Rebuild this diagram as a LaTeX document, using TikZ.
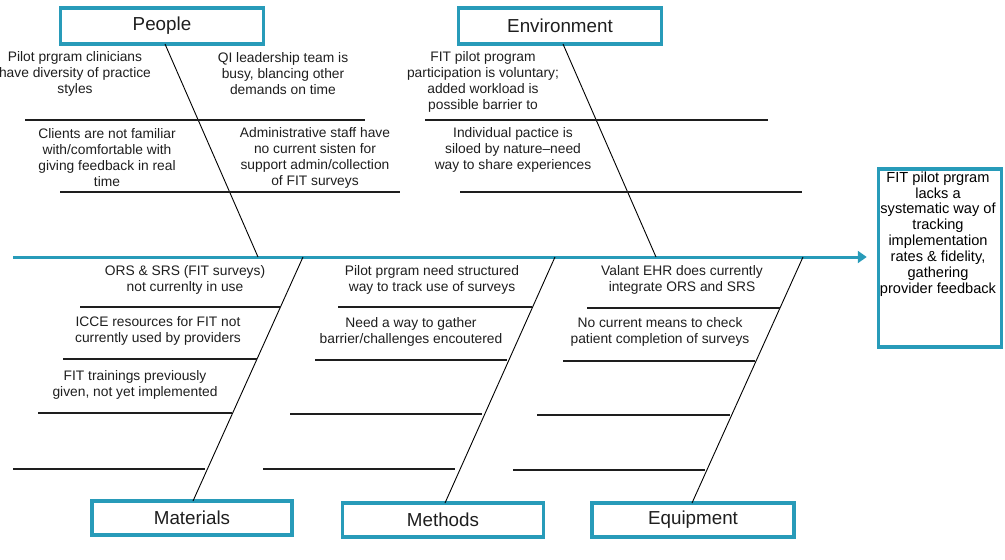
\documentclass[tikz,border=0pt]{standalone}
\usepackage{fontspec}
\setmainfont{Liberation Sans}
\usetikzlibrary{arrows.meta}
\definecolor{fbteal}{RGB}{40,155,185}
\definecolor{fbgray}{RGB}{30,30,30}
\tikzset{
  catbox/.style={draw=fbteal, line width=3.5pt, fill=white, inner sep=0pt, font=\fontsize{18.8}{20}\selectfont, text=fbgray},
  effectbox/.style={draw=fbteal, line width=3.5pt, fill=white, inner sep=0pt},
  cause/.style={align=center, inner sep=0pt, font=\fontsize{13.8}{16}\selectfont, text=fbgray},
  bone/.style={line width=0.9pt, black},
  rib/.style={line width=1.2pt, fbgray},
  spine/.style={line width=3pt, fbteal, -{Triangle[length=9pt,width=12pt]}}
}
\begin{document}
\begin{tikzpicture}[x=1pt,y=-1pt]
\useasboundingbox (0,0) rectangle (1005,560);
\clip (0,0) rectangle (1005,560);
% category boxes
\node[catbox, minimum width=203pt, minimum height=36pt] (people) at (162,26) {People};
\node[catbox, minimum width=203pt, minimum height=36pt] (env) at (560,26) {Environment};
\node[catbox, minimum width=200pt, minimum height=34pt] (mat) at (192,518) {Materials};
\node[catbox, minimum width=201pt, minimum height=34pt] (meth) at (443,520) {Methods};
\node[catbox, minimum width=202pt, minimum height=34pt] (equip) at (693,520) {Equipment};
% effect box
\node[effectbox, minimum width=123pt, minimum height=178pt] (effect) at (940,258) {};
\node[align=center, inner sep=0pt, font=\fontsize{14.6}{15.9}\selectfont, text=black] (efftext) at (938,234)
  {FIT pilot prgram\\lacks a\\systematic way of\\tracking\\implementation\\rates \& fidelity,\\gathering\\provider feedback};
% main spine
\coordinate (tail) at (13,257);
\draw[spine, shorten >=10pt] (tail) -- (effect.west |- tail);
% bone end points on the spine
\coordinate (pj) at (258,257);
\coordinate (ej) at (656,257);
\coordinate (mj) at (303,257);
\coordinate (tj) at (555,257);
\coordinate (qj) at (803,257);
\coordinate (ps) at (165,44);
\coordinate (es) at (563,44);
\coordinate (ms) at (193,501);
\coordinate (ts) at (445,503);
\coordinate (qs) at (692,503);
\draw[bone] (ps) -- (pj);
\draw[bone] (es) -- (ej);
\draw[bone] (ms) -- (mj);
\draw[bone] (ts) -- (tj);
\draw[bone] (qs) -- (qj);
% ribs: people
\draw[rib] (25,120) -- (365,120);
\draw[rib] (60,192) -- (400,192);
% ribs: environment
\draw[rib] (425,120) -- (768,120);
\draw[rib] (460,192) -- (802,192);
% ribs: materials
\draw[rib] (80,307) -- (280,307);
\draw[rib] (63,359) -- (257,359);
\draw[rib] (38,413) -- (232,413);
\draw[rib] (13,469) -- (205,469);
% ribs: methods
\draw[rib] (338,307) -- (532,307);
\draw[rib] (315,360) -- (507,360);
\draw[rib] (290,414) -- (482,414);
\draw[rib] (263,469) -- (455,469);
% ribs: equipment
\draw[rib] (587,308) -- (780,308);
\draw[rib] (563,361) -- (755,361);
\draw[rib] (537,415) -- (730,415);
\draw[rib] (513,470) -- (705,470);
% people causes
\node[cause] (p1) at (75,74) {Pilot prgram clinicians\\have diversity of practice\\styles};
\node[cause] (p2) at (283,74) {QI leadership team is\\busy, blancing other\\demands on time};
\node[cause] (p3) at (107,158) {Clients are not familiar\\with/comfortable with\\giving feedback in real\\time};
\node[cause] (p4) at (315,158) {Administrative staff have\\no current sisten for\\support admin/collection\\of FIT surveys};
% environment causes
\node[cause] (e1) at (483,82) {FIT pilot program\\participation is voluntary;\\added workload is\\possible barrier to};
\node[cause] (e2) at (513,150) {Individual pactice is\\siloed by nature--need\\way to share experiences};
% materials causes
\node[cause] (m1) at (185,280) {ORS \& SRS (FIT surveys)\\not currenlty in use};
\node[cause] (m2) at (158,331) {ICCE resources for FIT not\\currently used by providers};
\node[cause] (m3) at (135,385) {FIT trainings previously\\given, not yet implemented};
% methods causes
\node[cause] (t1) at (432,280) {Pilot prgram need structured\\way to track use of surveys};
\node[cause] (t2) at (411,332) {Need a way to gather\\barrier/challenges encoutered};
% equipment causes
\node[cause] (q1) at (682,280) {Valant EHR does currently\\integrate ORS and SRS};
\node[cause] (q2) at (660,332) {No current means to check\\patient completion of surveys};
\end{tikzpicture}
\end{document}
